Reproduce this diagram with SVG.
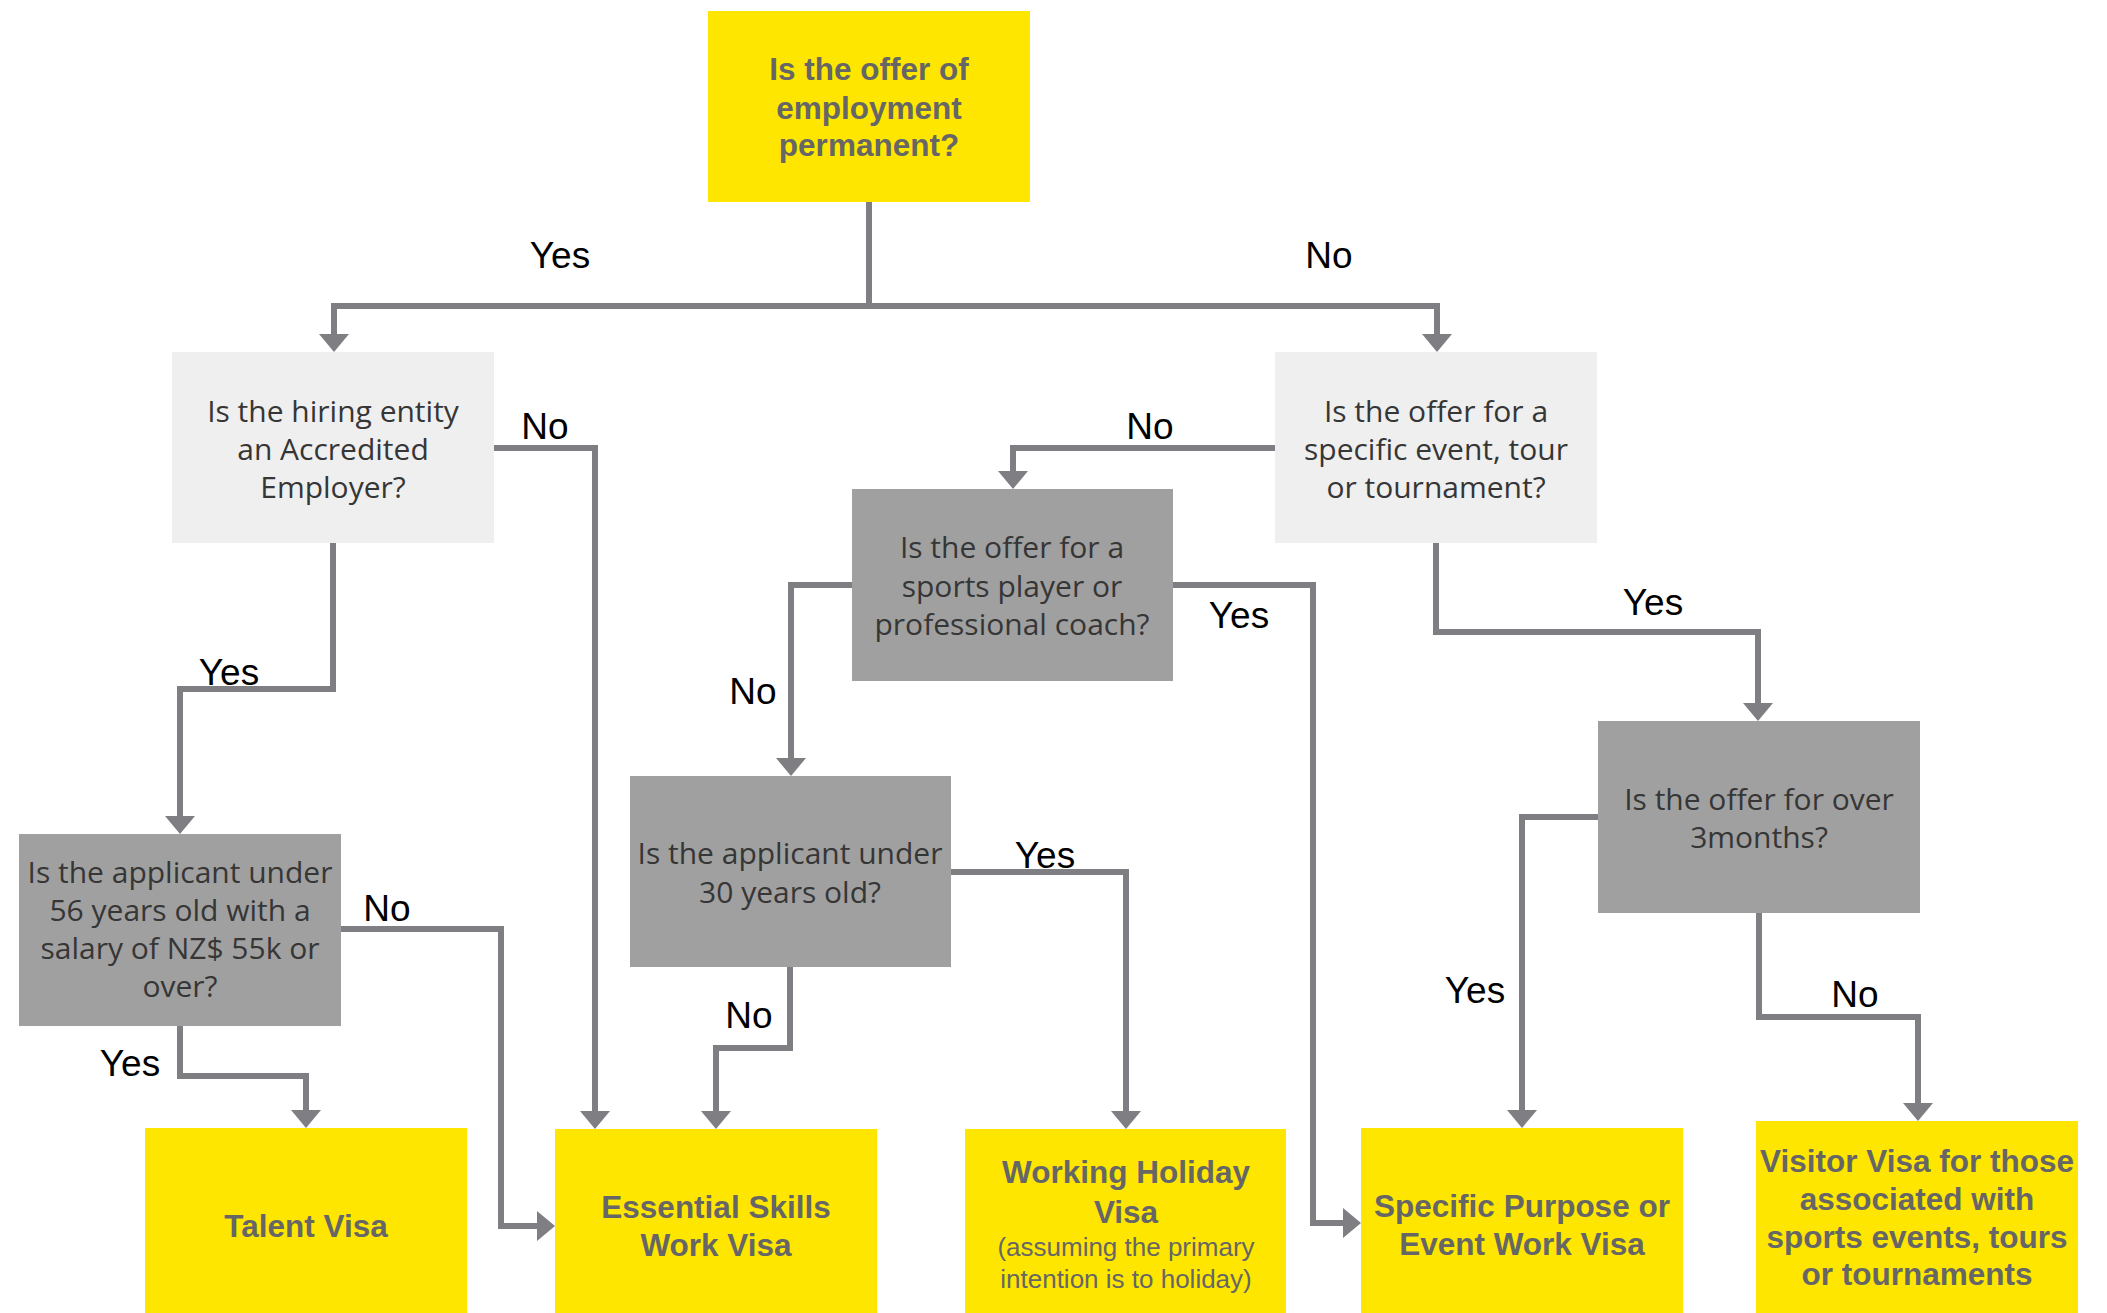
<svg xmlns="http://www.w3.org/2000/svg" width="2107" height="1313" viewBox="0 0 2107 1313">
<style>
.y{fill:#FFE600}
.l{fill:#EFEFEF}
.d{fill:#A0A0A0}
.q{font-family:"Open Sans","Noto Sans",sans-serif;font-size:30px;fill:#363636;text-anchor:middle}
.b{font-family:"Liberation Sans",Arial,sans-serif;font-size:31.5px;font-weight:bold;fill:#666666;text-anchor:middle}
.s{font-family:"Liberation Sans",Arial,sans-serif;font-size:26px;fill:#666666;text-anchor:middle}
.lab{font-family:"Liberation Sans",Arial,sans-serif;font-size:37px;fill:#000;text-anchor:middle}
.c{fill:none;stroke:#7E7E83;stroke-width:6;stroke-linejoin:miter}
</style>
<defs>
<marker id="ah" markerUnits="userSpaceOnUse" markerWidth="20" markerHeight="32" viewBox="0 -16 20 32" refX="0" refY="0" orient="auto">
<path d="M0,-15 L18,0 L0,15 z" fill="#7E7E83"/>
</marker>
</defs>
<rect width="2107" height="1313" fill="#FFFFFF"/>
<g id="connectors">
<path class="c" d="M869,202 V306 H334 V334" marker-end="url(#ah)"/>
<path class="c" d="M866,306 H1437 V334" marker-end="url(#ah)"/>
<path class="c" d="M494,448 H595 V1111" marker-end="url(#ah)"/>
<path class="c" d="M333,543 V689 H180 V816" marker-end="url(#ah)"/>
<path class="c" d="M341,929 H501 V1226 H537" marker-end="url(#ah)"/>
<path class="c" d="M180,1026 V1076 H306 V1110" marker-end="url(#ah)"/>
<path class="c" d="M1275,448 H1013 V471" marker-end="url(#ah)"/>
<path class="c" d="M1436,543 V632 H1758 V703" marker-end="url(#ah)"/>
<path class="c" d="M852,585 H791 V758" marker-end="url(#ah)"/>
<path class="c" d="M1172,585 H1313 V1223 H1343" marker-end="url(#ah)"/>
<path class="c" d="M951,872 H1126 V1111" marker-end="url(#ah)"/>
<path class="c" d="M790,967 V1048 H716 V1111" marker-end="url(#ah)"/>
<path class="c" d="M1598,817 H1522 V1110" marker-end="url(#ah)"/>
<path class="c" d="M1759,913 V1017 H1918 V1103" marker-end="url(#ah)"/>
<text class="lab" x="560" y="268">Yes</text>
<text class="lab" x="1329" y="268">No</text>
<text class="lab" x="545" y="439">No</text>
<text class="lab" x="1150" y="439">No</text>
<text class="lab" x="229" y="685">Yes</text>
<text class="lab" x="387" y="921">No</text>
<text class="lab" x="130" y="1076">Yes</text>
<text class="lab" x="1653" y="615">Yes</text>
<text class="lab" x="753" y="704">No</text>
<text class="lab" x="1239" y="628">Yes</text>
<text class="lab" x="1045" y="868">Yes</text>
<text class="lab" x="749" y="1028">No</text>
<text class="lab" x="1475" y="1003">Yes</text>
<text class="lab" x="1855" y="1007">No</text>
</g>
<g id="n-permanent">
<rect class="y" x="708" y="11" width="322" height="191"/>
<text class="b" x="869" y="80">Is the offer of</text>
<text class="b" x="869" y="119">employment</text>
<text class="b" x="869" y="156">permanent?</text>
</g>
<g id="n-accredited">
<rect class="l" x="172" y="352" width="322" height="191"/>
<text class="q" x="333" y="422">Is the hiring entity</text>
<text class="q" x="333" y="460">an Accredited</text>
<text class="q" x="333" y="498">Employer?</text>
</g>
<g id="n-event">
<rect class="l" x="1275" y="352" width="322" height="191"/>
<text class="q" x="1436" y="422">Is the offer for a</text>
<text class="q" x="1436" y="460">specific event, tour</text>
<text class="q" x="1436" y="498">or tournament?</text>
</g>
<g id="n-sports">
<rect class="d" x="852" y="489" width="321" height="192"/>
<text class="q" x="1012" y="558">Is the offer for a</text>
<text class="q" x="1012" y="597">sports player or</text>
<text class="q" x="1012" y="635">professional coach?</text>
</g>
<g id="n-salary">
<rect class="d" x="19" y="834" width="322" height="192"/>
<text class="q" x="180" y="883">Is the applicant under</text>
<text class="q" x="180" y="921">56 years old with a</text>
<text class="q" x="180" y="959">salary of NZ$ 55k or</text>
<text class="q" x="180" y="997">over?</text>
</g>
<g id="n-under30">
<rect class="d" x="630" y="776" width="321" height="191"/>
<text class="q" x="790" y="864">Is the applicant under</text>
<text class="q" x="790" y="903">30 years old?</text>
</g>
<g id="n-3months">
<rect class="d" x="1598" y="721" width="322" height="192"/>
<text class="q" x="1759" y="810">Is the offer for over</text>
<text class="q" x="1759" y="848">3months?</text>
</g>
<g id="n-talent">
<rect class="y" x="145" y="1128" width="322" height="185"/>
<text class="b" x="306" y="1237">Talent Visa</text>
</g>
<g id="n-essential">
<rect class="y" x="555" y="1129" width="322" height="184"/>
<text class="b" x="716" y="1218">Essential Skills</text>
<text class="b" x="716" y="1256">Work Visa</text>
</g>
<g id="n-holiday">
<rect class="y" x="965" y="1129" width="321" height="184"/>
<text class="b" x="1126" y="1183">Working Holiday</text>
<text class="b" x="1126" y="1223">Visa</text>
<text class="s" x="1126" y="1256">(assuming the primary</text>
<text class="s" x="1126" y="1288">intention is to holiday)</text>
</g>
<g id="n-specific">
<rect class="y" x="1361" y="1128" width="322" height="185"/>
<text class="b" x="1522" y="1217">Specific Purpose or</text>
<text class="b" x="1522" y="1255">Event Work Visa</text>
</g>
<g id="n-visitor">
<rect class="y" x="1756" y="1121" width="322" height="192"/>
<text class="b" x="1917" y="1172">Visitor Visa for those</text>
<text class="b" x="1917" y="1210">associated with</text>
<text class="b" x="1917" y="1248">sports events, tours</text>
<text class="b" x="1917" y="1285">or tournaments</text>
</g>
</svg>
